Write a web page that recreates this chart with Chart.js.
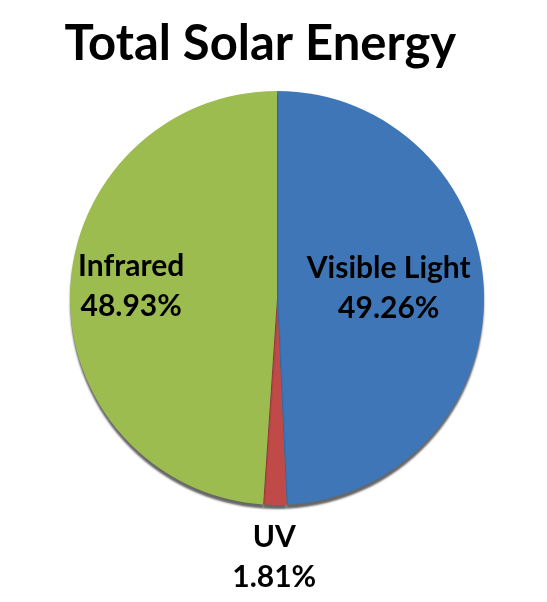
<!DOCTYPE html>
<html>
<head>
<meta charset="utf-8">
<script src="https://cdn.jsdelivr.net/npm/chart.js@4"></script>
<style>
  html, body { margin: 0; padding: 0; background: #fff; }
  #wrap { width: 547px; height: 602px; }
</style>
</head>
<body>
<div id="wrap"><canvas id="solar"></canvas></div>
<script>
// chart data
const chartTitle = "Total Solar Energy";
const categories = ["Visible Light", "UV", "Infrared"];
const shares = [49.26, 1.81, 48.93];
const sliceColors = ["#3F76B8", "#BF4A47", "#9CBC50"];

// label placement: distance along the slice's middle angle (fraction of radius)
const labelRadius = [0.54, 1.285, 0.705];
const LABEL_SHIFT_Y = -7;
const LINE_GAP = 40;

const FONT = "Lato, 'DejaVu Sans', sans-serif";

// title drawn a little left of centre, as in the original
const titlePlugin = {
    id: "titlePlugin",
    afterDraw(chart) {
        const ctx = chart.ctx;
        ctx.save();
        ctx.fillStyle = "#000";
        ctx.font = "bold 49px " + FONT;
        ctx.textAlign = "center";
        ctx.textBaseline = "alphabetic";
        ctx.fillText(chartTitle, chart.width * 0.476, 60);
        ctx.restore();
    }
};

// draws category + percentage on each slice
const sliceLabels = {
    id: "sliceLabels",
    afterDatasetsDraw(chart) {
        const ctx = chart.ctx;
        const arcs = chart.getDatasetMeta(0).data;
        ctx.save();
        ctx.fillStyle = "#000";
        ctx.font = "bold 30px " + FONT;
        ctx.textAlign = "center";
        ctx.textBaseline = "middle";
        arcs.forEach((arc, i) => {
            const p = arc.getProps(["x", "y", "startAngle", "endAngle", "outerRadius"], true);
            const mid = (p.startAngle + p.endAngle) / 2;
            const r = p.outerRadius * labelRadius[i];
            const cx = p.x + Math.cos(mid) * r;
            const cy = p.y + Math.sin(mid) * r + LABEL_SHIFT_Y;
            ctx.fillText(categories[i], cx, cy - LINE_GAP / 2);
            ctx.fillText(shares[i].toFixed(2) + "%", cx, cy + LINE_GAP / 2);
        });
        ctx.restore();
    }
};

// dark rim under the pie, like the 3D look in the original
const pieShadow = {
    id: "pieShadow",
    beforeDatasetsDraw(chart) {
        const ctx = chart.ctx;
        ctx.save();
        ctx.shadowColor = "rgba(0,0,0,0.6)";
        ctx.shadowBlur = 2;
        ctx.shadowOffsetY = 4;
    },
    afterDatasetsDraw(chart) {
        chart.ctx.restore();
    }
};

new Chart(document.getElementById("solar").getContext("2d"), {
    type: "pie",
    data: {
        labels: categories,
        datasets: [{
            data: shares,
            backgroundColor: sliceColors,
            borderWidth: 0
        }]
    },
    options: {
        responsive: true,
        maintainAspectRatio: false,
        animation: false,
        layout: { padding: { top: 91, bottom: 97, left: 70, right: 63 } },
        plugins: {
            legend: { display: false },
            tooltip: { enabled: false },
            title: { display: false }
        }
    },
    plugins: [pieShadow, sliceLabels, titlePlugin]
});
</script>
</body>
</html>
